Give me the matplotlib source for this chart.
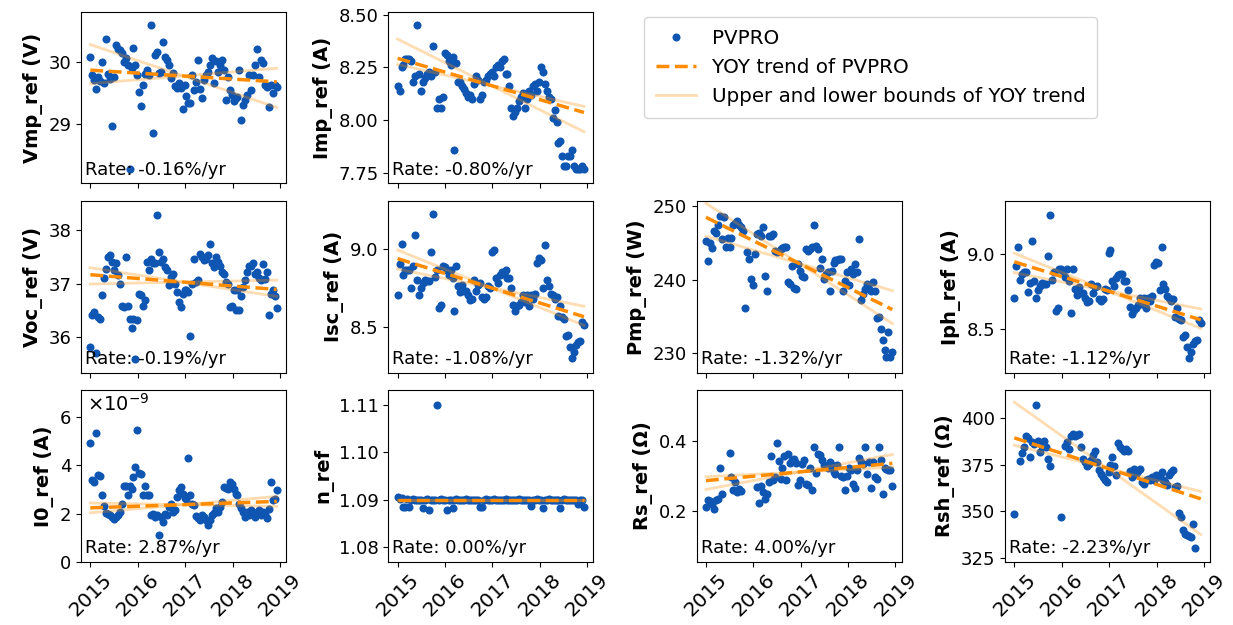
import numpy as np
import pandas as pd
import matplotlib
matplotlib.use('Agg')
import matplotlib.pyplot as plt
import matplotlib.dates as mdates

nan = np.nan

# dates des points PVPRO (~ tous les 15 jours)
dates = pd.date_range('2015-01-01', '2018-12-08', periods=96)

vmp = [30.07, 29.79, 29.71, 29.56, 29.75, 29.69, 30.00, 29.66, 30.37, 29.80, 29.72, 28.97,
       29.75, 30.27, 30.20, 30.19, 30.14, 29.99, 30.06, 29.95, 28.28, 29.90, 30.22, 29.95,
       29.78, 29.51, 29.29, 29.63, 29.80, 29.87, 29.78, 30.58, 28.86, 30.11, 30.15, 29.82,
       29.83, 30.31, 30.08, 30.03, 29.95, 29.74, 29.81, 29.61, 29.57, 29.65, 29.57, 29.24,
       29.63, 29.45, 29.33, 29.34, 29.78, 29.55, 29.68, 30.02, 29.56, 29.42, 29.70, 29.78,
       29.84, 29.95, 30.06, 29.66, 30.01, 29.84, 29.95, 30.03, 29.87, 29.39, 29.75, 29.55,
       29.47, 29.37, 29.42, 29.44, 29.86, 29.06, 29.31, 29.39, 29.47, 29.79, 29.55, 29.78,
       29.94, 30.21, 29.76, 30.02, 29.98, 29.63, 29.60, 29.27, 29.63, 29.50, 29.63, 29.60]

imp = [8.16, 8.14, 8.25, 8.26, 8.29, 8.29, 8.29, 8.28, 8.18, 8.21, 8.45, 8.22,
       8.14, 8.18, 8.20, 8.22, 8.23, 8.21, 8.35, 8.23, 8.06, 8.10, 8.06, 8.11,
       8.32, 8.31, 8.28, 8.26, 8.30, 7.86, 8.27, 8.18, 8.18, 8.16, 8.15, 8.13,
       8.11, 8.12, 8.10, 8.17, 8.21, 8.19, 8.10, 8.12, 8.18, 8.19, 8.21, 8.22,
       8.23, 8.21, 8.25, 8.26, 8.25, 8.28, 8.29, 8.22, 8.22, 8.16, 8.06, 8.02,
       8.04, 8.06, 8.09, 8.11, 8.13, 8.06, 8.10, 8.14, 8.12, 8.16, 8.17, 8.14,
       8.18, 8.25, 8.23, 8.17, 8.14, 8.11, 8.10, 8.01, 8.05, 7.99, 7.89, 7.90,
       7.83, 7.78, 7.78, 7.83, 7.83, 7.86, 7.78, 7.77, 7.77, 7.77, 7.78, 7.77]

voc = [35.81, 36.41, 36.47, 35.69, 36.38, 36.34, 36.78, 37.11, 37.28, 37.50, 37.53, 37.41,
       37.26, 37.38, 37.16, 37.00, 36.59, 36.56, 37.50, 36.59, 36.34, 36.16, 36.34, 35.59,
       36.31, 36.81, 36.78, 36.59, 36.69, 37.41, 37.25, 37.47, 37.38, 37.38, 38.28, 37.59,
       37.41, 37.47, 37.31, 37.25, 36.97, 37.13, 37.19, 37.00, 36.84, 36.66, 36.56, 36.81,
       36.88, 36.88, 36.84, 36.02, 37.00, 37.47, 37.03, 37.06, 37.56, 37.50, 37.44, 37.47,
       37.53, 37.75, 37.38, 37.31, 37.50, 37.41, 37.34, 37.22, 37.19, 37.03, 37.00, 36.56,
       36.59, 36.88, 36.50, 36.88, 36.50, 36.76, 36.94, 37.06, 37.22, 37.34, 37.34, 37.39,
       37.19, 37.22, 37.11, 37.06, 37.36, 37.09, 37.22, 36.41, 36.81, 36.89, 36.76, 36.55]

isc = [8.70, 8.90, 9.03, 8.83, 8.86, 8.86, 8.86, 8.75, 8.89, 9.09, 8.80, 8.70,
       8.75, 8.78, 8.80, 8.79, 8.79, 8.98, 9.22, 8.82, 8.86, 8.62, 8.64, 8.89,
       8.88, 8.86, 8.83, 8.86, 8.81, 8.60, 8.89, 8.76, 8.72, 8.77, 8.73, 8.73,
       8.70, 8.67, 8.68, 8.80, 8.73, 8.77, 8.78, 8.69, 8.68, 8.69, 8.76, 8.75,
       8.98, 8.99, 8.81, 8.78, 8.83, 8.85, 8.84, 8.86, 8.81, 8.81, 8.75, 8.64,
       8.60, 8.63, 8.64, 8.66, 8.70, 8.66, 8.70, 8.63, 8.70, 8.68, 8.71, 8.91,
       8.94, 8.93, 8.75, 9.02, 8.80, 8.76, 8.71, 8.70, 8.68, 8.69, 8.57, 8.63,
       8.56, 8.55, 8.44, 8.45, 8.37, 8.30, 8.34, 8.38, 8.40, 8.41, 8.53, 8.51]

pmp = [245.3, 242.5, 245.0, 244.3, 246.6, 246.3, 247.5, 248.7, 245.5, 248.5, 244.5, 245.7,
       244.5, 245.7, 247.5, 247.7, 248.0, 247.5, 247.1, 246.6, 236.1, 243.7, 242.8, 240.1,
       239.2, 243.5, 246.2, 246.4, 245.9, 247.1, 240.5, 238.5, 245.9, 245.9, 246.2, 243.9,
       243.8, 243.9, 244.1, 244.3, 244.4, 244.4, 239.6, 239.4, 241.9, 238.9, 238.7, 242.1,
       241.2, 240.5, 240.3, 244.1, 243.9, 244.1, 244.4, 247.5, 244.6, 244.1, 241.6, 242.8,
       240.1, 240.8, 241.0, 238.5, 241.2, 242.3, 242.6, 242.6, 242.8, 242.8, 238.5, 239.8,
       241.0, 239.2, 241.4, 240.8, 242.1, 241.0, 245.5, 237.2, 238.0, 238.7, 239.4, 238.7,
       238.5, 239.6, 238.5, 234.7, 234.9, 233.3, 231.7, 230.4, 229.5, 232.8, 229.5, 230.1]

iph = [8.71, 8.92, 9.05, 8.83, 8.87, 8.88, 8.88, 8.75, 8.81, 9.09, 8.82, 8.71,
       8.76, 8.79, 8.81, 8.80, 8.80, 8.99, 9.26, 8.83, 8.88, 8.62, 8.64, 8.90,
       8.90, 8.89, 8.85, 8.90, 8.82, 8.61, 8.90, 8.77, 8.73, 8.78, 8.74, 8.74,
       8.71, 8.68, 8.69, 8.80, 8.74, 8.78, 8.79, 8.70, 8.69, 8.70, 8.77, 8.76,
       9.01, 9.03, 8.82, 8.79, 8.84, 8.86, 8.87, 8.87, 8.82, 8.82, 8.76, 8.65,
       8.60, 8.63, 8.64, 8.66, 8.71, 8.67, 8.71, 8.64, 8.71, 8.69, 8.72, 8.93,
       8.95, 8.94, 8.76, 9.05, 8.80, 8.77, 8.72, 8.71, 8.69, 8.70, 8.58, 8.64,
       8.57, 8.56, 8.45, 8.46, 8.38, 8.31, 8.35, 8.40, 8.42, 8.43, 8.56, 8.54]

# I0 en 1e-9 A
i0 = [4.92, 3.38, 3.31, 5.34, 3.59, 3.54, 2.76, 2.30, 2.03, 2.00, 1.93, 1.86,
      1.79, 1.86, 1.93, 2.07, 2.41, 3.13, 3.13, 2.76, 3.13, 3.03, 3.52, 3.93,
      5.48, 3.68, 3.66, 2.76, 3.13, 2.76, 2.76, 1.93, 2.00, 1.86, 1.93, 1.10,
      1.86, 1.66, 2.00, 1.93, 2.28, 2.41, 2.07, 2.14, 2.69, 2.97, 3.10, 2.83,
      2.66, 2.62, 4.32, 2.76, 2.41, 2.34, 1.89, 1.83, 1.75, 1.93, 1.86, 1.72,
      1.52, 1.75, 1.93, 2.03, 2.21, 2.07, 2.28, 2.48, 3.10, 3.08, 3.03, 3.31,
      3.24, 3.03, 2.83, 2.76, 2.41, 2.21, 2.07, 1.86, 2.07, 1.93, 2.14, 2.07,
      1.86, 2.03, 2.14, 1.93, 2.07, 2.00, 1.82, 2.20, 3.31, 2.55, 2.62, 2.97]

n_ref = [1.0906, 1.0901, 1.0904, 1.0884, 1.0884, 1.0901, 1.0884, 1.0900, 1.0901, 1.0900, 1.0900, 1.0900,
         1.0900, 1.0883, 1.0900, 1.0901, 1.0878, 1.0900, 1.0900, 1.0900, 1.1100, 1.0900, 1.0901, 1.0900,
         1.0900, 1.0877, 1.0900, 1.0900, 1.0882, 1.0900, 1.0901, 1.0900, 1.0900, 1.0900, 1.0900, 1.0901,
         1.0900, 1.0900, 1.0900, 1.0900, 1.0900, 1.0900, 1.0885, 1.0885, 1.0900, 1.0901, 1.0900, 1.0899,
         1.0900, 1.0901, 1.0900, 1.0900, 1.0899, 1.0900, 1.0900, 1.0901, 1.0900, 1.0900, 1.0900, 1.0900,
         1.0900, 1.0900, 1.0901, 1.0900, 1.0900, 1.0900, 1.0900, 1.0900, 1.0886, 1.0900, 1.0900, 1.0901,
         1.0900, 1.0900, 1.0882, 1.0900, 1.0900, 1.0901, 1.0900, 1.0900, 1.0900, 1.0900, 1.0900, 1.0882,
         1.0900, 1.0901, 1.0900, 1.0900, 1.0900, 1.0900, 1.0900, 1.0900, 1.0891, 1.0900, 1.0900, 1.0884]

rs = [0.212, 0.233, 0.228, 0.220, 0.207, 0.231, 0.236, 0.323, 0.250, nan, nan, nan,
      0.364, 0.297, 0.261, 0.283, 0.254, 0.264, 0.256, nan, nan, nan, nan, nan,
      nan, nan, 0.269, 0.222, 0.270, 0.254, 0.236, 0.250, 0.283, 0.355, 0.287, 0.297,
      0.392, 0.342, 0.292, 0.323, 0.355, 0.289, 0.362, 0.336, 0.344, 0.348, 0.336, 0.273,
      0.287, 0.334, 0.344, 0.278, 0.273, 0.323, 0.261, 0.383, 0.308, 0.362, 0.358, 0.344,
      0.332, 0.327, 0.323, 0.339, 0.330, 0.311, 0.306, 0.330, 0.381, 0.301, 0.297, 0.259,
      0.299, 0.323, 0.317, 0.278, 0.267, 0.317, 0.351, 0.339, 0.334, 0.383, 0.306, 0.339,
      0.267, 0.339, 0.297, 0.292, 0.383, 0.344, 0.250, 0.323, 0.320, 0.318, 0.318, 0.270]

rsh = [348.7, nan, nan, 377.2, 381.1, 384.7, 390.6, 389.3, 379.3, 387.0, 386.0, 407.1,
       387.5, 381.6, 385.2, 387.9, 384.3, 378.1, 374.0, nan, nan, nan, nan, nan,
       346.9, nan, 385.2, 387.0, 383.4, 390.6, 391.4, 390.6, 390.9, 391.4, 384.3, 378.1,
       376.3, 374.5, 375.4, 377.5, 379.9, 382.5, 376.3, 371.9, 370.1, 368.3, 366.5, 365.6,
       371.0, 375.0, 379.0, 374.5, 369.2, 386.5, 384.3, 383.4, 382.5, 383.4, 382.5, 371.5,
       368.3, 372.7, 370.0, 371.5, 372.7, 365.6, 364.7, 366.5, 367.4, 366.5, 368.3, 366.9,
       369.2, 368.3, 369.2, 371.0, 366.5, 365.6, 363.8, 369.2, 371.0, 371.9, 362.9, 363.3,
       349.0, 346.9, 339.8, 337.6, 337.1, 336.5, 336.2, 343.3, 330.0, nan, nan, nan]

noms = ['Vmp_ref (V)', 'Imp_ref (A)', 'Voc_ref (V)', 'Isc_ref (A)', 'Pmp_ref (W)',
        'Iph_ref (A)', 'I0_ref (A)', 'n_ref', 'Rs_ref (Ω)', 'Rsh_ref (Ω)']
series = [vmp, imp, voc, isc, pmp, iph, [v * 1e-9 for v in i0], n_ref, rs, rsh]

# tendance YOY : valeur au milieu, taux et bornes en %/an
centre = [29.77, 8.165, 37.03, 8.75, 242.2, 8.757, 2.37e-9, 1.09, 0.311, 373.0]
taux = [-0.16, -0.80, -0.19, -1.08, -1.32, -1.12, 2.87, 0.00, 4.00, -2.23]
taux_bas = [-0.86, -1.37, -0.37, -1.40, -1.72, -1.45, -1.5, 0.0, 2.2, -4.84]
taux_haut = [0.21, -0.62, 0.05, -0.69, -0.78, -0.70, 7.3, 0.0, 8.1, -1.69]

ylims = [(28.05, 30.8), (7.70, 8.515), (35.33, 38.55), (8.206, 9.304), (227.3, 250.7),
         (8.212, 9.354), (0, 7.13e-9), (1.0769, 1.1131), (0.0573, 0.5427), (322.9, 415.0)]
yticks = [[29, 30], [7.75, 8.0, 8.25, 8.5], [36, 37, 38], [8.5, 9.0], [230, 240, 250],
          [8.5, 9.0], [0, 2e-9, 4e-9, 6e-9], [1.08, 1.09, 1.10, 1.11], [0.2, 0.4],
          [325, 350, 375, 400]]

# (ligne, colonne) de chaque panneau
cases = [(0, 0), (0, 1), (1, 0), (1, 1), (1, 2), (1, 3), (2, 0), (2, 1), (2, 2), (2, 3)]
lefts = [0.0657, 0.3149, 0.5650, 0.8151]
bottoms = [0.7067, 0.4037, 0.1013]
W, H = 0.1663, 0.2746

BLEU = '#0F56B3'
ORANGE = 'darkorange'

fig = plt.figure(figsize=(12.33, 6.25), dpi=100)

t_an = np.asarray((dates - dates[0]).days) / 365.25
tc = t_an.mean()
t_ext = np.array([t_an[0], t_an[-1]]) - tc
d_ext = [dates[0], dates[-1]]

for k, (r, c) in enumerate(cases):
    ax = fig.add_axes([lefts[c], bottoms[r], W, H])
    ax.plot(dates, series[k], 'o', ms=5.8, mew=0, color=BLEU, label='PVPRO')
    ax.plot(d_ext, centre[k] * (1 + taux[k] / 100 * t_ext), '--', color=ORANGE, lw=2.5,
            label='YOY trend of PVPRO')
    ax.plot(d_ext, centre[k] * (1 + taux_haut[k] / 100 * t_ext), color=ORANGE, alpha=0.3, lw=2,
            label='Upper and lower bounds of YOY trend')
    ax.plot(d_ext, centre[k] * (1 + taux_bas[k] / 100 * t_ext), color=ORANGE, alpha=0.3, lw=2)
    ax.set_ylim(ylims[k])
    ax.set_yticks(yticks[k])
    ax.set_ylabel(noms[k], fontsize=14, fontweight='bold')
    ax.tick_params(labelsize=13)
    ax.text(0.02, 0.025, f'Rate: {taux[k]:.2f}%/yr', transform=ax.transAxes, fontsize=13,
            ha='left', va='bottom')
    ax.xaxis.set_major_locator(mdates.YearLocator())
    ax.xaxis.set_major_formatter(mdates.DateFormatter('%Y'))
    if r == 2:
        ax.tick_params(axis='x', pad=2.5)
        plt.setp(ax.get_xticklabels(), rotation=45, fontsize=14.5)
    else:
        ax.tick_params(axis='x', labelbottom=False)
    if noms[k].startswith('I0'):
        ax.yaxis.get_offset_text().set_visible(False)
        ax.set_yticklabels(['0', '2', '4', '6'])
        ax.text(0.03, 0.985, r'$\times10^{-9}$', transform=ax.transAxes, fontsize=14,
                ha='left', va='top')
    if k == 0:
        handles, labs = ax.get_legend_handles_labels()

fig.legend(handles, labs, loc='upper left', bbox_to_anchor=(0.5223, 0.9728),
           borderaxespad=0, borderpad=0.6, fontsize=14.3)

fig.savefig('out.png', dpi=100)
